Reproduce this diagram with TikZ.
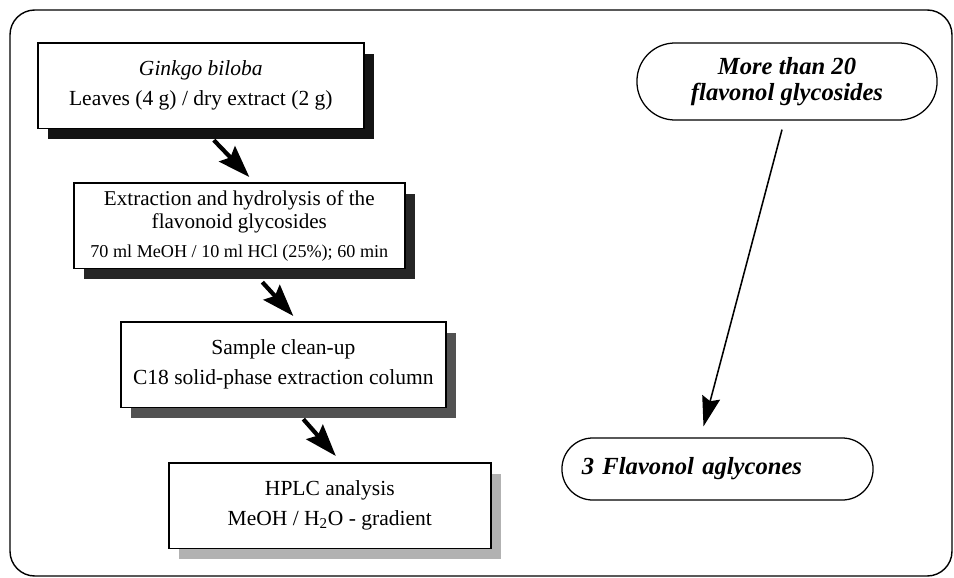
\documentclass[tikz,border=0pt]{standalone}
\usepackage{fontspec}
\setmainfont{Liberation Serif}
\usetikzlibrary{arrows.meta,shadows}

\begin{document}
\begin{tikzpicture}[
  x=0.025cm, y=-0.025cm,
  stepbox/.style={draw, line width=1.1pt, fill=white, align=center, anchor=north west,
    minimum height=2.14cm, inner sep=0pt, font=\fontsize{15.3}{21}\selectfont,
    drop shadow={shadow xshift=0.26cm, shadow yshift=-0.27cm, fill=#1, opacity=1}},
  result/.style={draw, line width=0.9pt, fill=white,
    font=\fontsize{17.5}{18}\selectfont\bfseries\itshape},
  bigarrow/.style={line width=3pt, -{Stealth[length=0.8cm, width=0.55cm, inset=0.12cm]}},
  thinarrow/.style={line width=1.1pt, -{Stealth[length=0.75cm, width=0.46cm, inset=0.1cm]}},
]
  \useasboundingbox (0,0) rectangle (954,578);
  \draw[line width=1pt, rounded corners=0.62cm] (10,10) rectangle (952,576);

  % sample preparation steps
  \node[stepbox=black!92, minimum width=8.15cm] (b1) at (37,42)
    {\textit{Ginkgo biloba}\\Leaves (4 g) / dry extract (2 g)};
  \node[stepbox=black!85, minimum width=8.275cm, font=\fontsize{15}{17}\selectfont] (b2) at (73,182)
    {Extraction and hydrolysis of the\\flavonoid glycosides\\[3pt]
     {\fontsize{12.9}{14}\selectfont 70 ml MeOH / 10 ml HCl (25\%); 60 min}};
  \node[stepbox=black!68, minimum width=8.125cm] (b3) at (120,321)
    {Sample clean-up\\C18 solid-phase extraction column};
  \node[stepbox=black!30, minimum width=8.05cm] (b4) at (168,462)
    {HPLC analysis\\MeOH / H\textsubscript{2}O - gradient};

  \draw[bigarrow] ([shift={(13,11)}]b1.south) -- ([shift={(10,-5)}]b2.north);
  \draw[bigarrow] ([shift={(23,13)}]b2.south) -- ([shift={(10,-5)}]b3.north);
  \draw[bigarrow] ([shift={(20,11)}]b3.south) -- ([shift={(6,-6)}]b4.north);

  % what happens to the flavonols
  \node[result, minimum width=7.5cm, minimum height=1.925cm, rounded corners=0.95cm,
    align=center] (glyc) at (787,81.5) {More than 20\\flavonol glycosides};
  \node[result, minimum height=1.55cm, text width=6.775cm, inner xsep=0.5cm,
    rounded corners=0.77cm, align=left] (agly) at (717.5,469) {3 Flavonol aglycones};

  \draw[thinarrow] ([shift={(-5,9)}]glyc.south) -- ([shift={(-14,-11)}]agly.north);
\end{tikzpicture}
\end{document}
